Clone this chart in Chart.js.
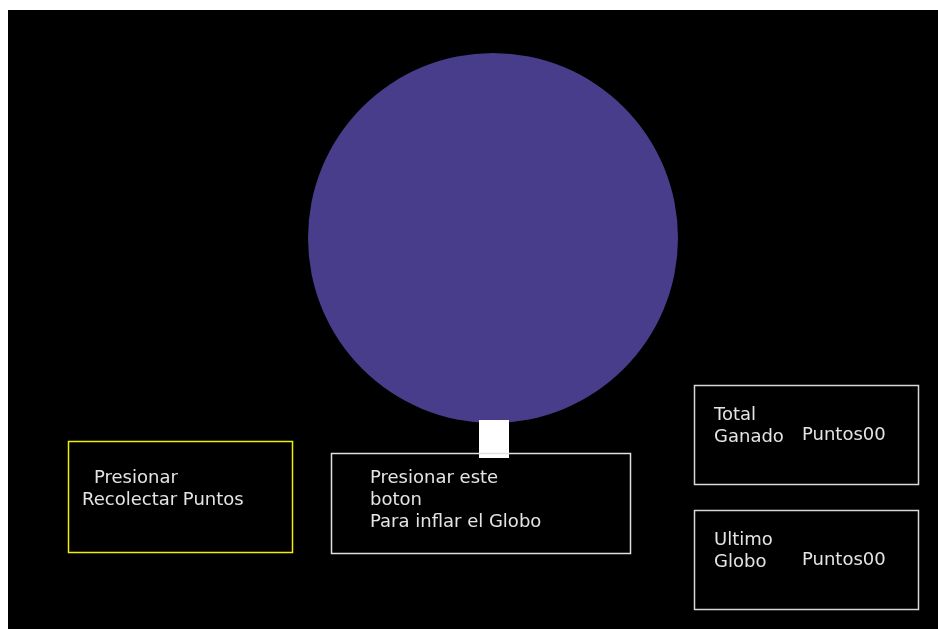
<!DOCTYPE html>
<html>
<head>
<meta charset="utf-8">
<script src="https://cdn.jsdelivr.net/npm/chart.js@4"></script>
<style>
  html, body { margin: 0; padding: 0; background: #fff; }
  #wrap { position: absolute; left: 0; top: 0; width: 938px; height: 629px; }
</style>
</head>
<body>
<div id="wrap"><canvas id="globoChart"></canvas></div>
<script>
// balloon (globo) - centre and inflated radius
const globoX = [493];
const globoY = [238];
const globoRadio = [185];

// boxes: [left, top, right, bottom]
const cajaNombres = ['recolectar', 'inflar', 'total', 'ultimo'];
const cajaX1 = [68, 331, 694, 694];
const cajaY1 = [441, 453, 385, 510];
const cajaX2 = [292, 630, 918, 918];
const cajaY2 = [552, 553, 484, 609];
const cajaColor = ['#f0f000', '#e0e0e0', '#d8d8d8', '#d8d8d8'];

// texts inside boxes
const textos = [
  ['Presionar', 94, 483],
  ['Recolectar Puntos', 82, 505],
  ['Presionar este', 370, 483],
  ['boton', 370, 505],
  ['Para inflar el Globo', 370, 527],
  ['Total', 714, 420],
  ['Ganado', 714, 442],
  ['Puntos00', 802, 440],
  ['Ultimo', 714, 545],
  ['Globo', 714, 567],
  ['Puntos00', 802, 565]
];

// knot of the balloon [left, top, right, bottom]
const nudo = [479, 420, 509, 458];

const fondoPlugin = {
  id: 'fondo',
  beforeDraw(chart) {
    const ctx = chart.ctx;
    const x = chart.scales.x, y = chart.scales.y;
    ctx.save();
    ctx.fillStyle = '#ffffff';
    ctx.fillRect(0, 0, chart.width, chart.height);
    ctx.fillStyle = '#000000';
    ctx.fillRect(x.getPixelForValue(8), y.getPixelForValue(10), chart.width, chart.height);
    ctx.restore();
  },
  afterDatasetsDraw(chart) {
    const ctx = chart.ctx;
    const x = chart.scales.x, y = chart.scales.y;
    ctx.save();
    // knot
    ctx.fillStyle = '#ffffff';
    ctx.fillRect(x.getPixelForValue(nudo[0]), y.getPixelForValue(nudo[1]),
      x.getPixelForValue(nudo[2]) - x.getPixelForValue(nudo[0]),
      y.getPixelForValue(nudo[3]) - y.getPixelForValue(nudo[1]));
    // boxes
    ctx.lineWidth = 1.5;
    for (let i = 0; i < cajaNombres.length; i++) {
      const l = Math.round(x.getPixelForValue(cajaX1[i])) + 0.5;
      const t = Math.round(y.getPixelForValue(cajaY1[i])) + 0.5;
      const r = Math.round(x.getPixelForValue(cajaX2[i])) + 0.5;
      const b = Math.round(y.getPixelForValue(cajaY2[i])) + 0.5;
      ctx.strokeStyle = cajaColor[i];
      ctx.strokeRect(l, t, r - l, b - t);
    }
    // texts
    ctx.fillStyle = '#e4e4e4';
    ctx.font = '18px "DejaVu Sans"';
    ctx.textBaseline = 'alphabetic';
    ctx.textAlign = 'left';
    textos.forEach(tx => {
      ctx.fillText(tx[0], x.getPixelForValue(tx[1]), y.getPixelForValue(tx[2]));
    });
    ctx.restore();
  }
};

new Chart(document.getElementById('globoChart'), {
  type: 'bubble',
  data: {
    datasets: [{
      label: 'Globo',
      data: globoX.map((v, i) => ({ x: v, y: globoY[i], r: globoRadio[i] })),
      backgroundColor: '#483d8b',
      borderWidth: 0,
      hoverRadius: 0
    }]
  },
  options: {
    responsive: true,
    maintainAspectRatio: false,
    animation: false,
    events: [],
    layout: { padding: 0, autoPadding: false },
    clip: false,
    plugins: { legend: { display: false }, tooltip: { enabled: false } },
    scales: {
      x: { type: 'linear', min: 0, max: 938, display: false },
      y: { type: 'linear', min: 0, max: 629, reverse: true, display: false }
    }
  },
  plugins: [fondoPlugin]
});
</script>
</body>
</html>
